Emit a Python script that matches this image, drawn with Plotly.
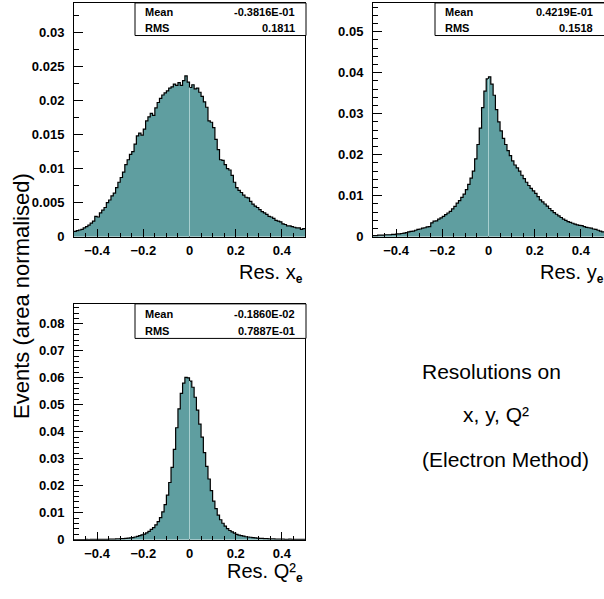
import numpy as np
import plotly.graph_objects as go

# ---------------- data ----------------
BIN_LO, BIN_HI, NBINS = -0.5, 0.5, 100

res_x = [0.0008, 0.0009, 0.0010, 0.0011, 0.0013, 0.0015, 0.0017, 0.0020, 0.0023, 0.0030,
         0.0029, 0.0035, 0.0039, 0.0043, 0.0050, 0.0054, 0.0060, 0.0064, 0.0072, 0.0080,
         0.0087, 0.0095, 0.0106, 0.0113, 0.0121, 0.0125, 0.0136, 0.0148, 0.0152, 0.0149,
         0.0158, 0.0170, 0.0176, 0.0181, 0.0178, 0.0189, 0.0197, 0.0203, 0.0208, 0.0211,
         0.0214, 0.0218, 0.0220, 0.0224, 0.0222, 0.0226, 0.0222, 0.0229, 0.0236, 0.0227,
         0.0219, 0.0223, 0.0217, 0.0218, 0.0212, 0.0206, 0.0198, 0.0190, 0.0170, 0.0168,
         0.0160, 0.0143, 0.0128, 0.0113, 0.0112, 0.0106, 0.0100, 0.0098, 0.0090, 0.0080,
         0.0072, 0.0068, 0.0065, 0.0061, 0.0058, 0.0057, 0.0052, 0.0048, 0.0045, 0.0043,
         0.0040, 0.0037, 0.0035, 0.0033, 0.0030, 0.0029, 0.0027, 0.0024, 0.0023, 0.0022,
         0.0019, 0.0018, 0.0016, 0.0016, 0.0015, 0.0014, 0.0013, 0.0013, 0.0011, 0.0012]

res_y = [0.0003, 0.0003, 0.0004, 0.0004, 0.0004, 0.0005, 0.0005, 0.0005, 0.0006, 0.0006,
         0.0007, 0.0007, 0.0008, 0.0009, 0.0010, 0.0012, 0.0013, 0.0014, 0.0016, 0.0018,
         0.0019, 0.0021, 0.0022, 0.0024, 0.0025, 0.0034, 0.0038, 0.0039, 0.0043, 0.0046,
         0.0050, 0.0054, 0.0058, 0.0062, 0.0068, 0.0074, 0.0082, 0.0088, 0.0096, 0.0104,
         0.0115, 0.0128, 0.0143, 0.0160, 0.0190, 0.0225, 0.0265, 0.0315, 0.0355, 0.0385,
         0.0390, 0.0372, 0.0345, 0.0310, 0.0280, 0.0258, 0.0240, 0.0225, 0.0210, 0.0198,
         0.0185, 0.0175, 0.0168, 0.0160, 0.0150, 0.0142, 0.0133, 0.0125, 0.0118, 0.0112,
         0.0106, 0.0098, 0.0090, 0.0085, 0.0080, 0.0075, 0.0069, 0.0064, 0.0059, 0.0055,
         0.0051, 0.0047, 0.0043, 0.0040, 0.0037, 0.0035, 0.0033, 0.0031, 0.0029, 0.0028,
         0.0027, 0.0025, 0.0023, 0.0022, 0.0021, 0.0019, 0.0018, 0.0016, 0.0014, 0.0012]

res_q2 = [0.0000, 0.0000, 0.0000, 0.0000, 0.0000, 0.0001, 0.0000, 0.0001, 0.0001, 0.0001,
          0.0001, 0.0001, 0.0001, 0.0001, 0.0001, 0.0002, 0.0002, 0.0002, 0.0003, 0.0003,
          0.0004, 0.0004, 0.0005, 0.0006, 0.0007, 0.0008, 0.0010, 0.0012, 0.0015, 0.0018,
          0.0021, 0.0025, 0.0031, 0.0038, 0.0045, 0.0055, 0.0067, 0.0082, 0.0103, 0.0130,
          0.0165, 0.0212, 0.0268, 0.0335, 0.0415, 0.0485, 0.0542, 0.0580, 0.0602, 0.0600,
          0.0588, 0.0565, 0.0528, 0.0480, 0.0428, 0.0380, 0.0323, 0.0272, 0.0225, 0.0182,
          0.0143, 0.0115, 0.0091, 0.0074, 0.0061, 0.0050, 0.0041, 0.0034, 0.0029, 0.0024,
          0.0020, 0.0017, 0.0015, 0.0013, 0.0011, 0.0010, 0.0009, 0.0008, 0.0007, 0.0006,
          0.0005, 0.0005, 0.0004, 0.0004, 0.0003, 0.0003, 0.0003, 0.0002, 0.0002, 0.0002,
          0.0002, 0.0001, 0.0001, 0.0002, 0.0001, 0.0001, 0.0001, 0.0001, 0.0001, 0.0001]

stats_x = ("-0.3816E-01", "0.1811")
stats_y = ("0.4219E-01", "0.1518")
stats_q2 = ("-0.1860E-02", "0.7887E-01")

SUB_E = "<sub><span style='font-size:12px'><b>e</b></span></sub>"
titles = ["Res. x" + SUB_E, "Res. y" + SUB_E, "Res. Q²" + SUB_E]
y_title = "Events (area normalised)"
side_text = ["Resolutions on", "x, y, Q²", "(Electron Method)"]

# ---------------- layout helpers ----------------
W, H = 604, 599
def px(x):
    return x / W
def py(y):
    return 1 - y / H

FILL = "#5f9ea0"
FONT = "Liberation Sans"

edges = np.linspace(BIN_LO, BIN_HI, NBINS + 1)

fig = go.Figure()

panels = [
    dict(vals=res_x, xa="x", ya="y"),
    dict(vals=res_y, xa="x2", ya="y2"),
    dict(vals=res_q2, xa="x3", ya="y3"),
]
shapes = []
for p in panels:
    v = list(p["vals"])
    fig.add_trace(go.Scatter(
        x=list(edges), y=v + [v[-1]], mode="lines", line_shape="hv",
        line=dict(color="black", width=1.2), fill="tozeroy", fillcolor=FILL,
        xaxis=p["xa"], yaxis=p["ya"], showlegend=False, hoverinfo="skip"))
    mid = NBINS // 2
    shapes.append(dict(type="line", xref=p["xa"], yref=p["ya"], x0=0, x1=0,
                       y0=0, y1=min(v[mid - 1], v[mid]),
                       line=dict(color="#a8cfcf", width=1), layer="above"))

tickfont = dict(family=FONT, size=13, color="black", weight="bold")

def xax(domain, mirror=True):
    return dict(domain=domain, range=[BIN_LO, BIN_HI], showline=True, linecolor="black",
                linewidth=1, mirror=mirror, ticks="inside", ticklen=8, tickwidth=1,
                tickcolor="black", tick0=0, dtick=0.2, showgrid=False, zeroline=False,
                tickfont=tickfont, ticklabelstandoff=2,
                minor=dict(ticks="inside", ticklen=4, tick0=0, dtick=0.05,
                           tickcolor="black", showgrid=False))

def yax(domain, top, dtick, mdtick, anchor, mirror=True):
    return dict(domain=domain, range=[0, top], showline=True, linecolor="black",
                linewidth=1, mirror=mirror, ticks="inside", ticklen=9, tickwidth=1,
                tickcolor="black", tick0=0, dtick=dtick, showgrid=False, zeroline=False,
                tickfont=tickfont, ticklabelstandoff=6, anchor=anchor,
                minor=dict(ticks="inside", ticklen=5, tick0=0, dtick=mdtick,
                           tickcolor="black", showgrid=False))

fig.update_layout(
    width=W, height=H, margin=dict(l=0, r=0, t=0, b=0),
    paper_bgcolor="white", plot_bgcolor="white",
    xaxis=dict(xax([px(74), px(305)]), anchor="y"),
    yaxis=yax([py(240), py(3)], 0.0343, 0.005, 0.0025, "x"),
    xaxis2=dict(xax([px(373), 1.0]), anchor="y2"),
    yaxis2=yax([py(240), py(3)], 0.0570, 0.01, 0.002, "x2", mirror=False),
    xaxis3=dict(xax([px(74), px(305)]), anchor="y3"),
    yaxis3=yax([py(547), py(308)], 0.0874, 0.01, 0.002, "x3"),
)

annotations = []
# stat boxes
boxes = [
    (135, 306, 3, 36, 143, 297, 12, 28, stats_x),
    (435, 620, 3, 36, 443, 595, 12, 28, stats_y),
    (135, 306, 308, 343, 143, 297, 318, 335, stats_q2),
]
for (x0, x1, y0, y1, tl, tr, r1, r2, st) in boxes:
    shapes.append(dict(type="rect", xref="paper", yref="paper", x0=px(x0), x1=px(x1),
                       y0=py(y1), y1=py(y0), line=dict(color="black", width=1),
                       fillcolor="white", layer="above"))
    for lab, val, yy in (("Mean", st[0], r1), ("RMS", st[1], r2)):
        annotations.append(dict(xref="paper", yref="paper", x=px(tl), y=py(yy),
                                xanchor="left", yanchor="middle", showarrow=False, text=lab,
                                font=dict(family=FONT, size=11, color="black", weight="bold")))
        annotations.append(dict(xref="paper", yref="paper", x=px(tr), y=py(yy),
                                xanchor="right", yanchor="middle", showarrow=False, text=val,
                                font=dict(family=FONT, size=11, color="black", weight="bold")))

# axis titles
for t, xr, yy in ((titles[0], 305, 277), (titles[1], 606, 277), (titles[2], 305, 580)):
    annotations.append(dict(xref="paper", yref="paper", x=px(xr), y=py(yy), xanchor="right",
                            yanchor="middle", showarrow=False, text=t,
                            font=dict(family=FONT, size=20, color="black")))

annotations.append(dict(xref="paper", yref="paper", x=px(22), y=py(300), xanchor="center",
                        yanchor="middle", showarrow=False, text=y_title, textangle=-90,
                        font=dict(family=FONT, size=22, color="black")))

for t, xx, yy in zip(side_text, (491, 496, 505), (377, 420, 466)):
    annotations.append(dict(xref="paper", yref="paper", x=px(xx), y=py(yy), xanchor="center",
                            yanchor="middle", showarrow=False, text=t,
                            font=dict(family=FONT, size=21, color="black")))

fig.update_layout(shapes=shapes, annotations=annotations)
fig.write_html("out.html")
